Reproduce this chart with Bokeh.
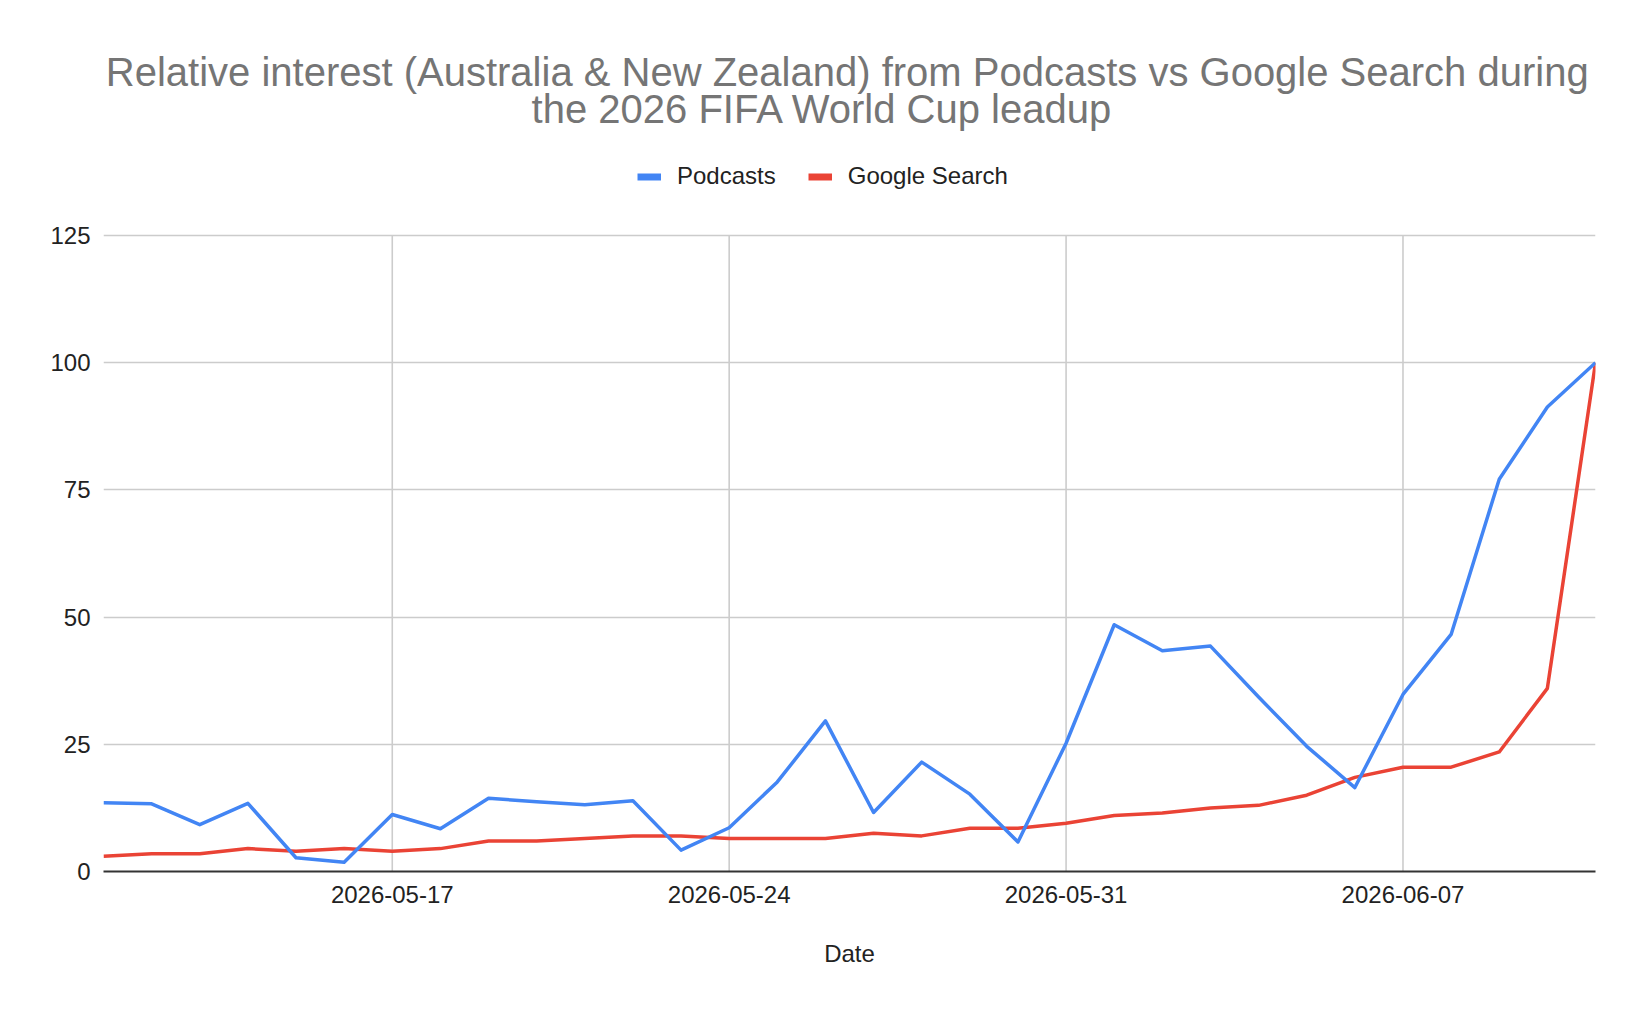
import numpy as np
import pandas as pd
from bokeh.plotting import figure
from bokeh.layouts import column
from bokeh.models import (Range1d, FixedTicker, DatetimeTickFormatter, Legend,
                          LegendItem, Label, ColumnDataSource)
from bokeh.embed import file_html
from bokeh.resources import INLINE

# ---- data ----
dates = ["2026-05-11", "2026-05-12", "2026-05-13", "2026-05-14", "2026-05-15",
         "2026-05-16", "2026-05-17", "2026-05-18", "2026-05-19", "2026-05-20",
         "2026-05-21", "2026-05-22", "2026-05-23", "2026-05-24", "2026-05-25",
         "2026-05-26", "2026-05-27", "2026-05-28", "2026-05-29", "2026-05-30",
         "2026-05-31", "2026-06-01", "2026-06-02", "2026-06-03", "2026-06-04",
         "2026-06-05", "2026-06-06", "2026-06-07", "2026-06-08", "2026-06-09",
         "2026-06-10", "2026-06-11"]
podcasts = [13.5, 13.3, 9.2, 13.4, 2.7, 1.8, 11.2, 8.4, 14.4, 13.7,
            13.1, 13.9, 4.2, 8.6, 17.6, 29.6, 11.6, 21.5, 15.2, 5.8,
            25.2, 48.5, 43.4, 44.3, 34.3, 24.6, 16.5, 34.8, 46.6, 77.1,
            91.3, 100.0]
google_search = [3.0, 3.5, 3.5, 4.5, 4.0, 4.5, 4.0, 4.5, 6.0, 6.0,
                 6.5, 7.0, 7.0, 6.5, 6.5, 6.5, 7.5, 7.0, 8.5, 8.5,
                 9.5, 11.0, 11.5, 12.5, 13.0, 15.0, 18.5, 20.5, 20.5, 23.5,
                 36.0, 100.0]
x_tick_dates = ["2026-05-17", "2026-05-24", "2026-05-31", "2026-06-07"]
y_ticks = [0, 25, 50, 75, 100, 125]
series_names = ["Podcasts", "Google Search"]
series_colors = ["#4285F4", "#EA4335"]
title_lines = ["Relative interest (Australia & New Zealand) from Podcasts vs Google Search during",
               "the 2026 FIFA World Cup leadup"]
x_title = "Date"

FONT = "Liberation Sans"
TEXT = "#222222"
GRID = "#cccccc"

dt = pd.to_datetime(dates)
src = ColumnDataSource(dict(x=dt, pod=podcasts, goo=google_search))
tick_ms = [pd.Timestamp(d).value / 1e6 for d in x_tick_dates]

x0 = pd.Timestamp(dates[0])
x1 = pd.Timestamp(dates[-1])
x0_ms = x0.value / 1e6

# ---- layout (pixels) ----
W = 1630
HT = 140                          # height of the title strip
H = 1000 - HT                     # height of the chart figure
ML, MR, MB = 103, 35, 129
PLOT_TOP = 235.0 - HT             # where the value-axis top (125) sits
FH = H - MB                       # frame height (frame reaches the top of figure)
Y_TOP_VAL = y_ticks[-1]
px_per_unit = (FH - PLOT_TOP) / Y_TOP_VAL
YMAX = FH / px_per_unit

# ---- title strip ----
t = figure(width=W, height=HT, x_range=Range1d(0, W), y_range=Range1d(HT, 0),
           x_axis_location=None, y_axis_location=None,
           output_backend="svg", toolbar_location=None,
           min_border_left=0, min_border_right=0, min_border_top=0,
           min_border_bottom=0)
t.grid.visible = False
t.outline_line_color = None
t.background_fill_color = "white"
t.border_fill_color = "white"
for txt, cx, py in zip(title_lines, [812.5, 785.5], [71.5, 108.5]):
    t.add_layout(Label(x=cx, y=py, text=txt,
                       text_align="center", text_baseline="middle",
                       text_font=FONT, text_font_size="40px",
                       text_color="#757575"))

# ---- chart ----
p = figure(width=W, height=H, x_axis_type="datetime",
           x_range=Range1d(start=x0, end=x1), y_range=Range1d(start=0, end=YMAX),
           output_backend="svg", toolbar_location=None,
           min_border_left=ML, min_border_right=MR,
           min_border_top=0, min_border_bottom=MB)
p.outline_line_color = None
p.background_fill_color = "white"
p.border_fill_color = "white"

# grids
p.xgrid.visible = False
p.ygrid.grid_line_color = GRID
p.ygrid.grid_line_width = 1.6
# vertical gridlines limited to the value range
p.segment(x0=tick_ms, y0=[y_ticks[0]] * len(tick_ms),
          x1=tick_ms, y1=[y_ticks[-1]] * len(tick_ms),
          line_color=GRID, line_width=1.6)

# x axis
xa = p.xaxis[0]
xa.ticker = FixedTicker(ticks=tick_ms)
xa.formatter = DatetimeTickFormatter(days="%Y-%m-%d", months="%Y-%m-%d",
                                     years="%Y-%m-%d", hours="%Y-%m-%d")
xa.major_tick_line_color = None
xa.minor_tick_line_color = None
xa.major_tick_out = 0
xa.major_tick_in = 0
xa.axis_line_color = "#333333"
xa.axis_line_width = 2
xa.major_label_text_font = FONT
xa.major_label_text_font_size = "24px"
xa.major_label_text_color = TEXT
xa.major_label_standoff = 14
xa.axis_label = x_title
xa.axis_label_text_font = FONT
xa.axis_label_text_font_size = "24px"
xa.axis_label_text_font_style = "normal"
xa.axis_label_text_color = TEXT
xa.axis_label_standoff = 34

# y axis
ya = p.yaxis[0]
ya.ticker = FixedTicker(ticks=y_ticks)
ya.major_tick_line_color = None
ya.minor_tick_line_color = None
ya.major_tick_out = 0
ya.major_tick_in = 0
ya.axis_line_color = None
ya.major_label_text_font = FONT
ya.major_label_text_font_size = "24px"
ya.major_label_text_color = TEXT
ya.major_label_standoff = 13

# lines
p.line("x", "goo", source=src, line_color=series_colors[1], line_width=3.5,
       line_join="round")
p.line("x", "pod", source=src, line_color=series_colors[0], line_width=3.5,
       line_join="round")

# legend swatches (non-drawing renderers only used for the legend)
d1 = p.line(x=[x0_ms], y=np.array([np.nan]), line_color=series_colors[0],
            line_width=7, line_cap="butt")
d2 = p.line(x=[x0_ms], y=np.array([np.nan]), line_color=series_colors[1],
            line_width=7, line_cap="butt")
legend = Legend(items=[LegendItem(label=series_names[0], renderers=[d1]),
                       LegendItem(label=series_names[1], renderers=[d2])],
                orientation="horizontal", location=(534, 681),
                padding=0, margin=0, spacing=32, label_standoff=16,
                glyph_width=24, glyph_height=27, label_height=27,
                label_text_font=FONT, label_text_font_size="24px",
                label_text_color=TEXT, border_line_color=None,
                background_fill_alpha=0)
p.add_layout(legend)

layout = column(t, p, spacing=0)
open("out.html", "w").write(file_html(layout, INLINE))
